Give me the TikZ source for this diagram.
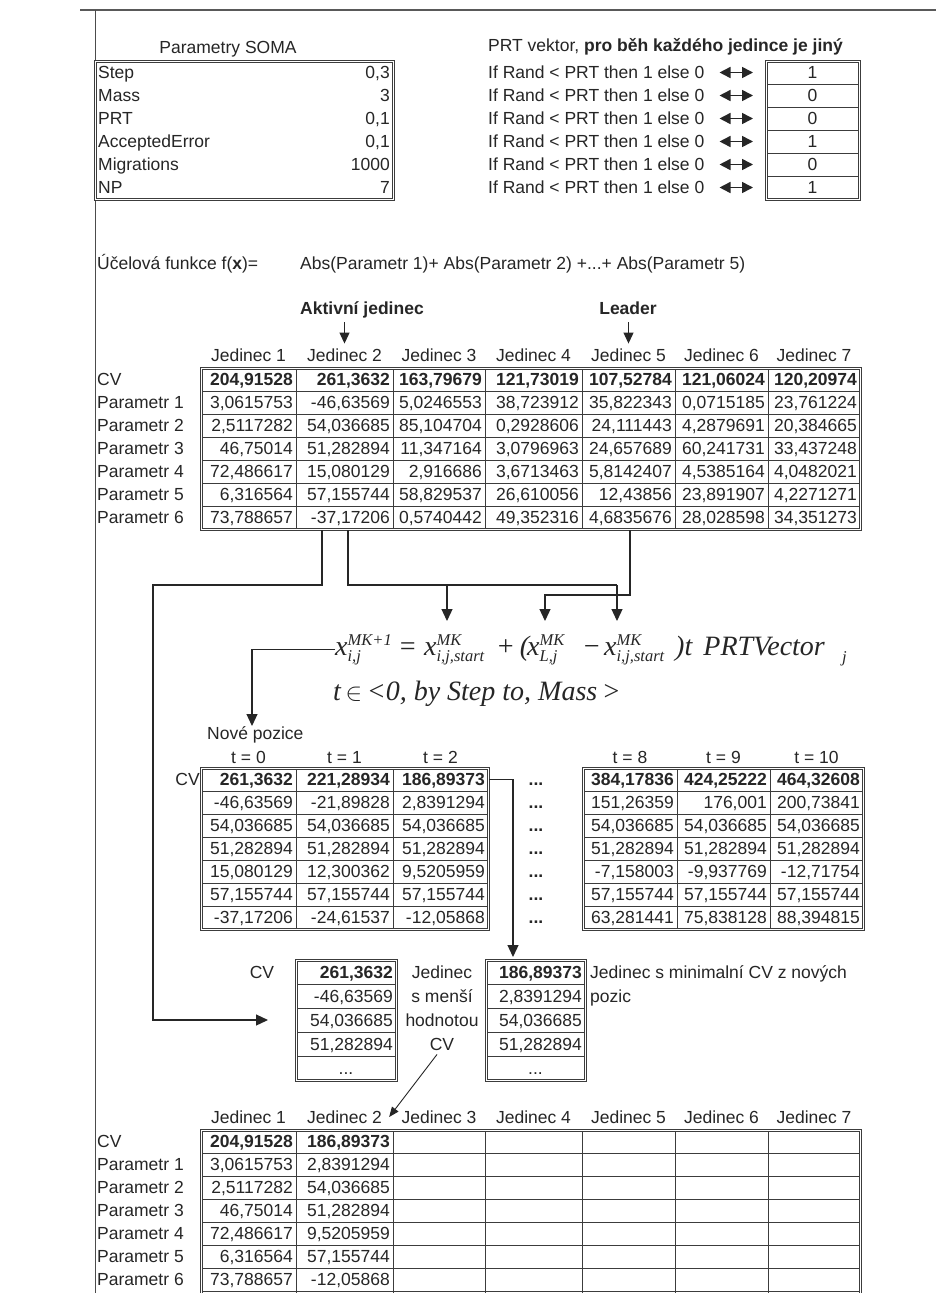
\documentclass[tikz,border=0pt]{standalone}
\usepackage{fontspec}
\setmainfont{Liberation Sans}
\newfontfamily\tnr{Liberation Serif}
\usetikzlibrary{arrows.meta,calc}
\definecolor{ink}{HTML}{262626}
\definecolor{gridc}{HTML}{3c3c3c}
\newcommand\fx{\fontsize{28}{32}\selectfont\tnr\itshape}
\newcommand\fs{\fontsize{16.5}{18}\selectfont\tnr\itshape}
\newcommand\xv[2]{$\mbox{\fx x}^{\mbox{\fs #1}}_{\mbox{\fs #2}}$}
\newcommand\seven[9]{%
 \node[num] (#1-1) at (296,#2) {#3};
 \node[num] (#1-2) at (393,#2) {#4};
 \node[num] (#1-3) at (485,#2) {#5};
 \node[num] (#1-4) at (582,#2) {#6};
 \node[num] (#1-5) at (675,#2) {#7};
 \node[num] (#1-6) at (768,#2) {#8};
 \node[num] (#1-7) at (860,#2) {#9};}
\newcommand\three[8]{%
 \node[num] (#1-1) at (#3,#2) {#6};
 \node[num] (#1-2) at (#4,#2) {#7};
 \node[num] (#1-3) at (#5,#2) {#8};}
\newcommand\two[4]{%
 \node[num] (#1-1) at (296,#2) {#3};
 \node[num] (#1-2) at (393,#2) {#4};}
\newcommand\rowlabels[2]{%
 \foreach \k/\t in {0/CV,1/Parametr 1,2/Parametr 2,3/Parametr 3,4/Parametr 4,5/Parametr 5,6/Parametr 6}
  \node[lbl] (#1\k) at (97,{#2+23*\k}) {\t};}
\begin{document}
\begin{tikzpicture}[x=1pt,y=-1pt,
  every node/.style={text=ink},
  font=\fontsize{17.5}{21}\selectfont,
  lbl/.style={anchor=west,inner sep=0pt,text height=12.5pt,text depth=0pt},
  lblr/.style={anchor=east,inner sep=0pt,text height=12.5pt,text depth=0pt},
  num/.style={anchor=east,inner xsep=3pt,inner ysep=0pt,text height=12.5pt,text depth=0pt},
  ctr/.style={anchor=center,inner sep=0pt,text height=12.5pt,text depth=0pt},
  tbox/.style={draw=gridc,line width=0.9pt,double=white,double distance=1.3pt,inner sep=0pt,anchor=north west},
  gl/.style={draw=gridc,line width=0.8pt},
  conn/.style={draw=ink,line width=1.2pt},
  arr/.style={conn,-{Triangle[length=12pt,width=11pt]}},
  sarr/.style={draw=ink,line width=1.1pt,-{Triangle[length=11pt,width=10pt]}},
  darr/.style={draw=ink,line width=1.6pt,{Triangle[length=11pt,width=11pt]}-{Triangle[length=11pt,width=11pt]}},
  fpart/.style={anchor=base west,inner sep=0pt,font=\fontsize{28}{32}\selectfont},
]
\useasboundingbox (0,0) rectangle (936,1293);
\clip (0,0) rectangle (936,1293);
\fill[white] (0,0) rectangle (936,1293);

% frame
\draw[draw=gray!70!black,line width=1.3pt] (80,10) -- (936,10);
\draw[draw=gray!60!black,line width=0.8pt] (95,10) -- (95,1293);

% ---------- Parametry SOMA ----------
\node[ctr] (somat) at (228,47) {Parametry SOMA};
\node[tbox,minimum width=298pt,minimum height=138pt] (soma) at (95,61) {};
\foreach \k/\t/\v in {1/Step/{0,3},2/Mass/3,3/PRT/{0,1},4/AcceptedError/{0,1},5/Migrations/1000,6/NP/7}{
  \node[lbl] (sl\k) at (98,{49.5+23*\k}) {\t};
  \node[num] (sv\k) at (393,{49.5+23*\k}) {\v};
}

% ---------- PRT vektor ----------
\node[lbl] (prtt) at (488,45) {PRT vektor, \textbf{pro běh každého jedince je jiný}};
\foreach \yy in {84,107,130,153,176} \draw[gl] (766,\yy) -- (859,\yy);
\node[tbox,minimum width=93pt,minimum height=138pt] (prtb) at (766,61) {};
\foreach \k/\v in {1/1,2/0,3/0,4/1,5/0,6/1}{
  \node[lbl] (pi\k) at (488,{49.5+23*\k}) {If Rand < PRT then 1 else 0};
  \node[ctr] (pv\k) at (812.5,{49.5+23*\k}) {\v};
  \draw[darr] ([xshift=15pt]pi\k.east) -- ([xshift=-13pt]pi\k.east -| prtb.west);
}

% ---------- objective ----------
\node[lbl] (uf) at (97,263) {Účelová funkce f(\textbf{x})=};
\node[lbl] (abs) at (300,263) {Abs(Parametr 1)+ Abs(Parametr 2) +...+ Abs(Parametr 5)};

% ---------- main table ----------
\node[ctr] (akt) at (362,308) {\textbf{Aktivní jedinec}};
\node[ctr] (lead) at (628,308) {\textbf{Leader}};
\foreach \c/\xc in {1/248.5,2/344.5,3/439,4/533.5,5/628.5,6/721.5,7/814}
  \node[ctr] (h\c) at (\xc,355) {Jedinec \c};
\draw[sarr] ([yshift=-8pt]akt.south -| h2.north) -- ([yshift=5pt]h2.north);
\draw[sarr] ([yshift=-8pt]lead.south -| h5.north) -- ([yshift=5pt]h5.north);

\foreach \xx in {296,393,485,582,675,768} \draw[gl] (\xx,368) -- (\xx,529);
\foreach \yy in {391,414,437,460,483,506} \draw[gl] (201,\yy) -- (860,\yy);
\node[tbox,minimum width=659pt,minimum height=161pt] (mt) at (201,368) {};
\rowlabels{ml}{379.5}
\seven{m0}{379.5}{\textbf{204,91528}}{\textbf{261,3632}}{\textbf{163,79679}}{\textbf{121,73019}}{\textbf{107,52784}}{\textbf{121,06024}}{\textbf{120,20974}}
\seven{m1}{402.5}{3,0615753}{-46,63569}{5,0246553}{38,723912}{35,822343}{0,0715185}{23,761224}
\seven{m2}{425.5}{2,5117282}{54,036685}{85,104704}{0,2928606}{24,111443}{4,2879691}{20,384665}
\seven{m3}{448.5}{46,75014}{51,282894}{11,347164}{3,0796963}{24,657689}{60,241731}{33,437248}
\seven{m4}{471.5}{72,486617}{15,080129}{2,916686}{3,6713463}{5,8142407}{4,5385164}{4,0482021}
\seven{m5}{494.5}{6,316564}{57,155744}{58,829537}{26,610056}{12,43856}{23,891907}{4,2271271}
\seven{m6}{517.5}{73,788657}{-37,17206}{0,5740442}{49,352316}{4,6835676}{28,028598}{34,351273}

% ---------- formula ----------
\node[fpart] (f0) at (335,655) {\xv{MK+1}{i,j}};
\node[fpart] (f1) at (398,655) {\fx =};
\node[fpart] (f2) at (424,655) {\xv{MK}{i,j,start}};
\node[fpart] (f3) at (496,655) {\fx +\,(};
\node[fpart] (f4) at (527,655) {\xv{MK}{L,j}};
\node[fpart] (f5) at (582,655) {\fx −};
\node[fpart] (f6) at (604,655) {\xv{MK}{i,j,start}};
\node[fpart] (f7) at (675,655) {\fx )t\hspace{0.4em}PRTVector};
\node[fpart] (f8) at (842,662) {\fs j};
\node[fpart,text height=19pt,text depth=6pt] (g0) at (333,700) {\fx t\,$\in$\,<0, by Step to, Mass\,>};

% ---------- connectors from main table ----------
\coordinate (actl) at (322,530);
\coordinate (actr) at (348,530);
\coordinate (ldr) at (630,530);
\coordinate (lvA) at (0,585);
\coordinate (lvB) at (0,595);
\coordinate (tipY) at (0,621);
\coordinate (bendL) at (153,585);
\coordinate (lbtip) at (268,1020);
\coordinate (tA) at ([xshift=23pt]f2.west |- tipY);
\coordinate (tL) at ([xshift=18pt]f4.west |- tipY);
\coordinate (tB) at ([xshift=13pt]f6.west |- tipY);
\draw[conn] (actr) |- (tB |- lvA);
\draw[arr] (tA |- lvA) -- (tA);
\draw[arr] (tB |- lvA) -- (tB);
\draw[arr] (ldr) |- (tL |- lvB) -- (tL);
\draw[arr] (actl) |- (bendL) |- (lbtip);

% ---------- new positions ----------
\node[lbl] (nove) at (207,733) {Nové pozice};
\coordinate (novtip) at (252,726);
\draw[arr] (f0.west) -| (novtip);
\node[ctr] (t0) at (248.5,757) {t = 0};
\node[ctr] (t1) at (344.5,757) {t = 1};
\node[ctr] (t2) at (440.5,757) {t = 2};
\node[ctr] (t8) at (630,757) {t = 8};
\node[ctr] (t9) at (723.5,757) {t = 9};
\node[ctr] (t10) at (816.5,757) {t = 10};
\node[lblr] (ncv) at (200,779.5) {CV};

\foreach \xx in {296,393} \draw[gl] (\xx,768) -- (\xx,929);
\foreach \xx in {677,770} \draw[gl] (\xx,768) -- (\xx,929);
\foreach \yy in {791,814,837,860,883,906}{
  \draw[gl] (201,\yy) -- (488,\yy);
  \draw[gl] (583,\yy) -- (863,\yy);
}
\node[tbox,minimum width=287pt,minimum height=161pt] (nt) at (201,768) {};
\node[tbox,minimum width=280pt,minimum height=161pt] (ntr) at (583,768) {};
\three{n0}{779.5}{296}{393}{488}{\textbf{261,3632}}{\textbf{221,28934}}{\textbf{186,89373}}
\three{n1}{802.5}{296}{393}{488}{-46,63569}{-21,89828}{2,8391294}
\three{n2}{825.5}{296}{393}{488}{54,036685}{54,036685}{54,036685}
\three{n3}{848.5}{296}{393}{488}{51,282894}{51,282894}{51,282894}
\three{n4}{871.5}{296}{393}{488}{15,080129}{12,300362}{9,5205959}
\three{n5}{894.5}{296}{393}{488}{57,155744}{57,155744}{57,155744}
\three{n6}{917.5}{296}{393}{488}{-37,17206}{-24,61537}{-12,05868}
\three{r0}{779.5}{677}{770}{863}{\textbf{384,17836}}{\textbf{424,25222}}{\textbf{464,32608}}
\three{r1}{802.5}{677}{770}{863}{151,26359}{176,001}{200,73841}
\three{r2}{825.5}{677}{770}{863}{54,036685}{54,036685}{54,036685}
\three{r3}{848.5}{677}{770}{863}{51,282894}{51,282894}{51,282894}
\three{r4}{871.5}{677}{770}{863}{-7,158003}{-9,937769}{-12,71754}
\three{r5}{894.5}{677}{770}{863}{57,155744}{57,155744}{57,155744}
\three{r6}{917.5}{677}{770}{863}{63,281441}{75,838128}{88,394815}
\foreach \k in {0,...,6} \node[ctr] (dots\k) at (536,{779.5+23*\k}) {\textbf{...}};

% ---------- selection boxes ----------
\coordinate (mintip) at (513,957);
\draw[arr] (nt.east |- n0-3) -| (mintip);
\foreach \yy in {984,1008,1032,1056}{
  \draw[gl] (296,\yy) -- (396,\yy);
  \draw[gl] (486,\yy) -- (585,\yy);
}
\node[tbox,minimum width=100pt,minimum height=120pt] (lb) at (296,960) {};
\node[tbox,minimum width=99pt,minimum height=120pt] (rb) at (486,960) {};
\node[ctr] (lcv) at (262,972) {CV};
\node[num] (lb0) at (396,972) {\textbf{261,3632}};
\node[num] (lb1) at (396,996) {-46,63569};
\node[num] (lb2) at (396,1020) {54,036685};
\node[num] (lb3) at (396,1044) {51,282894};
\node[ctr] (lb4) at (346,1068) {...};
\node[num] (rb0) at (585,972) {\textbf{186,89373}};
\node[num] (rb1) at (585,996) {2,8391294};
\node[num] (rb2) at (585,1020) {54,036685};
\node[num] (rb3) at (585,1044) {51,282894};
\node[ctr] (rb4) at (535.5,1068) {...};
\node[ctr] (mj) at (442,972) {Jedinec};
\node[ctr] (ms) at (442,996) {s menší};
\node[ctr] (mh) at (442,1020) {hodnotou};
\node[ctr] (cvm) at (442,1044) {CV};
\node[lbl] (minl) at (590,972) {Jedinec s minimalní CV z nových};
\node[lbl] (poz) at (590,996) {pozic};

% ---------- bottom table ----------
\foreach \c/\xc in {1/248.5,2/344.5,3/439,4/533.5,5/628.5,6/721.5,7/814}
  \node[ctr] (bh\c) at (\xc,1117) {Jedinec \c};
\draw[sarr,line width=0.9pt,-{Triangle[length=10pt,width=8pt]}] ([xshift=-5pt,yshift=-4pt]cvm.south) -- ([xshift=7pt]bh2.east);
\foreach \xx in {296,393,485,582,675,768} \draw[gl] (\xx,1130) -- (\xx,1300);
\foreach \yy in {1153,1176,1199,1222,1245,1268,1291} \draw[gl] (201,\yy) -- (860,\yy);
\node[tbox,minimum width=659pt,minimum height=172pt] (bt) at (201,1130) {};
\rowlabels{bl}{1141.5}
\two{b0}{1141.5}{\textbf{204,91528}}{\textbf{186,89373}}
\two{b1}{1164.5}{3,0615753}{2,8391294}
\two{b2}{1187.5}{2,5117282}{54,036685}
\two{b3}{1210.5}{46,75014}{51,282894}
\two{b4}{1233.5}{72,486617}{9,5205959}
\two{b5}{1256.5}{6,316564}{57,155744}
\two{b6}{1279.5}{73,788657}{-12,05868}
\end{tikzpicture}
\end{document}
